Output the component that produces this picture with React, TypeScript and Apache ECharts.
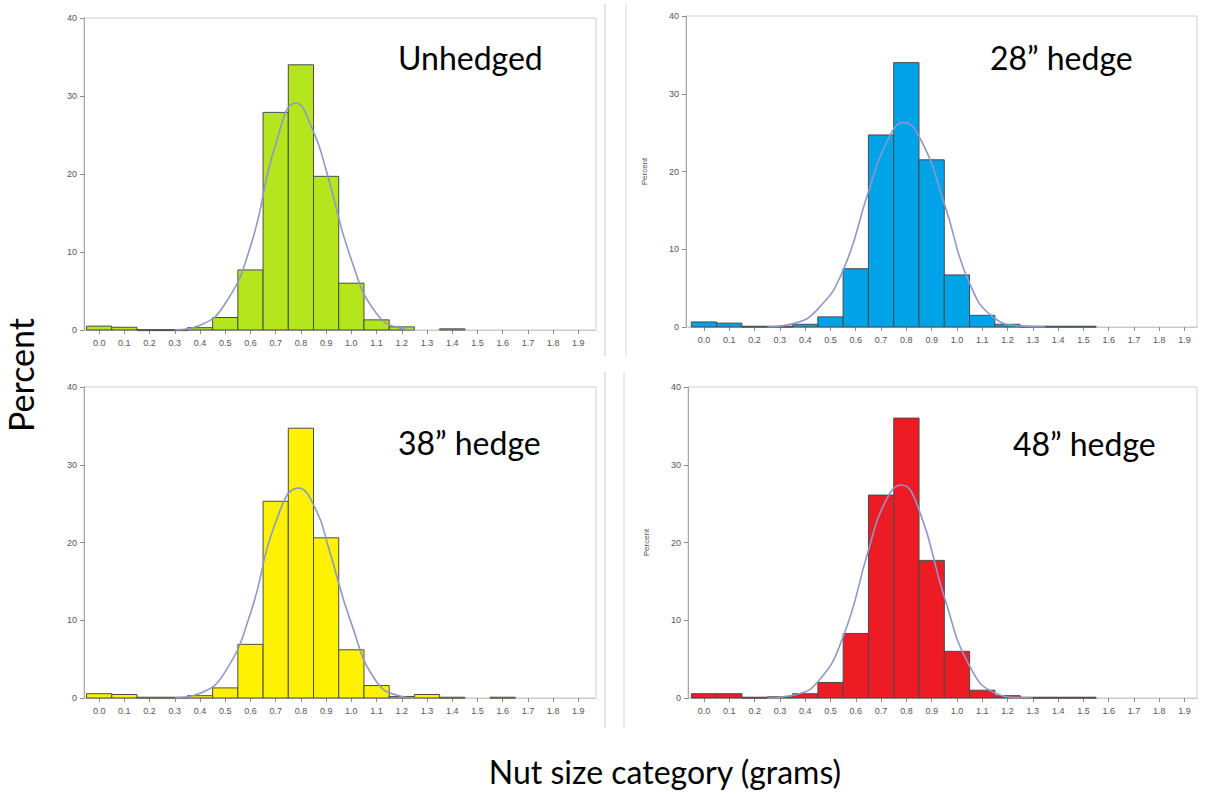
import React, { useEffect, useRef } from "react";
import * as echarts from "echarts";

// bin centres (grams) and tick labels
const binCenters = [0.0, 0.1, 0.2, 0.3, 0.4, 0.5, 0.6, 0.7, 0.8, 0.9, 1.0, 1.1, 1.2, 1.3, 1.4, 1.5, 1.6, 1.7, 1.8, 1.9];
const tickValues = [0.0, 0.1, 0.2, 0.3, 0.4, 0.5, 0.6, 0.7, 0.8, 0.9, 1.0, 1.1, 1.2, 1.3, 1.4, 1.5, 1.6, 1.7, 1.8, 1.9];
const yTicks = [0, 10, 20, 30, 40];

// percent per bin
const unhedged = [0.5, 0.35, 0.05, 0.05, 0.3, 1.6, 7.7, 27.9, 34.0, 19.7, 6.0, 1.3, 0.4, 0, 0.15, 0, 0, 0, 0, 0];
const hedge28 = [0.65, 0.5, 0.1, 0.1, 0.35, 1.3, 7.5, 24.7, 34.0, 21.5, 6.7, 1.5, 0.35, 0.1, 0.1, 0.1, 0, 0, 0, 0];
const hedge38 = [0.55, 0.45, 0.1, 0.1, 0.3, 1.3, 6.9, 25.3, 34.7, 20.6, 6.2, 1.6, 0.2, 0.45, 0.1, 0, 0.1, 0, 0, 0];
const hedge48 = [0.55, 0.55, 0.1, 0.15, 0.55, 2.0, 8.3, 26.1, 36.0, 17.7, 6.0, 1.0, 0.3, 0.1, 0.1, 0.1, 0, 0, 0, 0];

// fitted density curves: [x, percent]
const curveUnhedged = [
  [0.3, 0], [0.4, 0.6], [0.5, 3.4], [0.6, 10.7], [0.7, 23.8],
  [0.78, 29.1], [0.85, 25.4], [0.9, 20.5], [1.0, 9],
  [1.1, 2.1], [1.2, 0.2], [1.25, 0],
];
const curve28 = [
  [0.25, 0], [0.35, 0.4], [0.45, 2.3], [0.55, 7.3], [0.65, 17.4],
  [0.72, 23.6], [0.79, 26.3], [0.86, 23.9], [0.95, 15.9], [1.05, 5.6],
  [1.15, 1.1], [1.25, 0.15], [1.35, 0],
];
const curve38 = [
  [0.3, 0], [0.4, 0.6], [0.5, 3.4], [0.6, 10.9], [0.7, 22.6],
  [0.79, 27.0], [0.86, 24.2], [0.91, 19.3], [1.0, 9.6], [1.1, 2.1],
  [1.2, 0.2], [1.25, 0],
];
const curve48 = [
  [0.25, 0], [0.35, 0.35], [0.45, 2.1], [0.55, 7.9], [0.65, 19],
  [0.71, 24.8], [0.78, 27.4], [0.85, 24.2], [0.95, 13], [1.05, 4.1],
  [1.15, 0.65], [1.25, 0.05], [1.3, 0],
];

const panelTitles = ["Unhedged", "28\u201d hedge", "38\u201d hedge", "48\u201d hedge"];
const panelValues = [unhedged, hedge28, hedge38, hedge48];
const panelCurves = [curveUnhedged, curve28, curve38, curve48];
const panelColors = ["#b5e61d", "#00a2e8", "#fff200", "#ed1c24"];

// layout (pixels)
const grids = [
  { left: 84, top: 18, width: 512, height: 312, xmin: -0.06, xmax: 1.97, ylabel: false },
  { left: 686, top: 16, width: 511, height: 311, xmin: -0.071, xmax: 1.949, ylabel: true },
  { left: 84, top: 387, width: 512, height: 311, xmin: -0.06, xmax: 1.97, ylabel: false },
  { left: 688, top: 387, width: 509, height: 311, xmin: -0.0635, xmax: 1.949, ylabel: true },
];
const titlePos = [
  { left: 398, top: 41 },
  { left: 990, top: 41 },
  { left: 398, top: 426 },
  { left: 1013, top: 427 },
];

export default function App() {
  const ref = useRef<HTMLDivElement>(null);
  useEffect(() => {
    if (!ref.current) return;
    const chart = echarts.init(ref.current, null, { renderer: "svg" });
    const tickColor = "#8a8a8a";
    const labelStyle = { color: "#555", fontSize: 9, fontFamily: "Liberation Sans, Arial, sans-serif" };

    const option: any = {
      animation: false,
      backgroundColor: "#fff",
      grid: grids.map((g) => ({
        left: g.left, top: g.top, width: g.width, height: g.height,
        show: true, borderColor: "#cfcfcf", borderWidth: 1, backgroundColor: "#fff",
      })),
      xAxis: grids.map((g, i) => ({
        type: "value", gridIndex: i, min: g.xmin, max: g.xmax,
        splitLine: { show: false },
        axisLine: { show: true, onZero: false, lineStyle: { color: "#c8c8c8" } },
        axisTick: { show: true, length: 4, lineStyle: { color: tickColor }, customValues: tickValues },
        axisLabel: { ...labelStyle, margin: 8, customValues: tickValues, formatter: (v: number) => v.toFixed(1) },
      })),
      yAxis: grids.map((g, i) => ({
        type: "value", gridIndex: i, min: 0, max: 40, interval: 10,
        name: g.ylabel ? "Percent" : "",
        nameLocation: "middle", nameGap: 38,
        nameTextStyle: { color: "#555", fontSize: 8, fontFamily: "Liberation Sans, Arial, sans-serif" },
        splitLine: { show: false },
        axisLine: { show: true, onZero: false, lineStyle: { color: "#a8a8a8" } },
        axisTick: { show: true, length: 4, lineStyle: { color: tickColor } },
        axisLabel: { ...labelStyle, margin: 7, customValues: yTicks },
      })),
      title: panelTitles.map((t, i) => ({
        text: t, left: titlePos[i].left, top: titlePos[i].top, padding: 0,
        textStyle: { fontFamily: "Lato", fontSize: 32, fontWeight: "normal", color: "#000" },
      })),
      series: [
        ...panelValues.map((vals, i) => ({
          type: "custom",
          xAxisIndex: i, yAxisIndex: i,
          data: binCenters.map((x, k) => [x, vals[k]]),
          encode: { x: 0, y: 1 },
          z: 2,
          renderItem: (params: any, api: any) => {
            const x = api.value(0);
            const y = api.value(1);
            if (!(y > 0)) return null;
            const p1 = api.coord([x - 0.05, y]);
            const p2 = api.coord([x + 0.05, 0]);
            return {
              type: "rect",
              shape: { x: p1[0], y: p1[1], width: p2[0] - p1[0], height: Math.max(p2[1] - p1[1], 1) },
              style: { fill: panelColors[i], stroke: "#4a4a4a", lineWidth: 1 },
            };
          },
        })),
        ...panelCurves.map((c, i) => ({
          type: "line",
          xAxisIndex: i, yAxisIndex: i,
          data: c,
          smooth: 0.5,
          showSymbol: false,
          symbol: "none",
          z: 5,
          lineStyle: { color: "#8e97c9", width: 1.6 },
        })),
      ],
      graphic: [
        {
          type: "text", x: 20, y: 375, rotation: Math.PI / 2,
          style: { text: "Percent", fontFamily: "Lato", fontSize: 34, fill: "#000", textAlign: "center", textVerticalAlign: "middle" },
        },
        {
          type: "text", x: 665, y: 771,
          style: { text: "Nut size category (grams)", fontFamily: "Lato", fontSize: 32, fill: "#000", textAlign: "center", textVerticalAlign: "middle" },
        },
        { type: "line", shape: { x1: 605, y1: 4, x2: 605, y2: 356 }, style: { stroke: "#e6e6e6", lineWidth: 2 } },
        { type: "line", shape: { x1: 605, y1: 372, x2: 605, y2: 728 }, style: { stroke: "#e6e6e6", lineWidth: 2 } },
        { type: "line", shape: { x1: 626, y1: 4, x2: 626, y2: 356 }, style: { stroke: "#d8d8d8", lineWidth: 1 } },
        { type: "line", shape: { x1: 624, y1: 372, x2: 624, y2: 728 }, style: { stroke: "#d8d8d8", lineWidth: 1 } },
      ],
    };
    chart.setOption(option);
    return () => chart.dispose();
  }, []);
  return <div ref={ref} style={{ position: "fixed", left: 0, top: 0, width: 1207, height: 794 }} />;
}
